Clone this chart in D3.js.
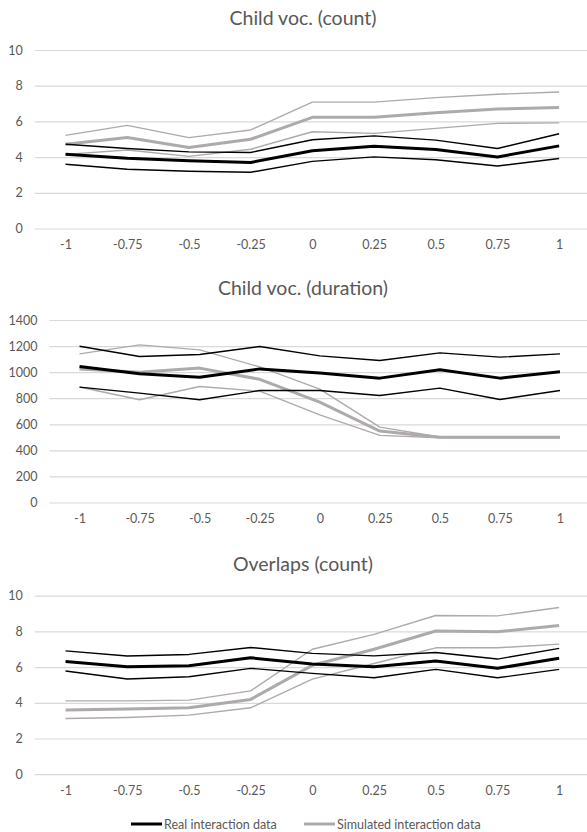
<!DOCTYPE html>
<html>
<head>
<meta charset="utf-8">
<script src="https://cdn.jsdelivr.net/npm/d3@7"></script>
<style>
  body { margin: 0; background: #fff; }
  svg { display: block; font-family: Lato, "Noto Sans", sans-serif; }
</style>
</head>
<body>
<svg id="chart" width="587" height="832"></svg>
<script>
const categories = ["-1", "-0.75", "-0.5", "-0.25", "0", "0.25", "0.5", "0.75", "1"];

// Child voc. (count)
const countRealHigh = [4.72, 4.48, 4.29, 4.26, 4.97, 5.19, 4.95, 4.48, 5.31];
const countRealMean = [4.16, 3.93, 3.79, 3.70, 4.36, 4.61, 4.43, 4.01, 4.63];
const countRealLow  = [3.60, 3.32, 3.21, 3.15, 3.76, 4.01, 3.85, 3.50, 3.92];
const countSimHigh  = [5.22, 5.78, 5.09, 5.52, 7.08, 7.08, 7.33, 7.52, 7.65];
const countSimMean  = [4.72, 5.10, 4.54, 5.00, 6.23, 6.23, 6.48, 6.69, 6.78];
const countSimLow   = [4.15, 4.40, 4.04, 4.44, 5.42, 5.33, 5.61, 5.89, 5.92];

// Child voc. (duration)
const durRealHigh = [1199, 1120, 1135, 1197, 1125, 1089, 1148, 1115, 1140];
const durRealMean = [1043, 987, 961, 1025, 993, 954, 1018, 954, 1003];
const durRealLow  = [885, 839, 788, 859, 859, 821, 877, 790, 859];
const durSimHigh  = [1140, 1209, 1171, 1040, 870, 578, 502, 502, 502];
const durSimMean  = [1025, 1000, 1031, 945, 770, 548, 500, 500, 500];
const durSimLow   = [886, 788, 890, 854, 672, 515, 497, 497, 497];

// Overlaps (count)
const ovRealHigh = [6.91, 6.62, 6.71, 7.10, 6.77, 6.63, 6.82, 6.45, 7.05];
const ovRealMean = [6.32, 6.02, 6.07, 6.52, 6.18, 6.02, 6.34, 5.93, 6.49];
const ovRealLow  = [5.78, 5.33, 5.46, 5.93, 5.65, 5.40, 5.87, 5.40, 5.87];
const ovSimHigh  = [4.11, 4.11, 4.15, 4.67, 7.00, 7.83, 8.89, 8.87, 9.34];
const ovSimMean  = [3.59, 3.65, 3.72, 4.19, 6.10, 7.00, 8.02, 7.98, 8.33];
const ovSimLow   = [3.12, 3.18, 3.31, 3.72, 5.33, 6.20, 7.08, 7.08, 7.29];

const titles = ["Child voc. (count)", "Child voc. (duration)", "Overlaps (count)"];
const legendLabels = ["Real interaction data", "Simulated interaction data"];

const panels = [
    {title: titles[0], max: 10, step: 2, left: 34.7, top: 50, bottom: 228.5, titleY: 17.5,
     real: [countRealHigh, countRealMean, countRealLow], sim: [countSimHigh, countSimMean, countSimLow]},
    {title: titles[1], max: 1400, step: 200, left: 49.5, top: 320, bottom: 502.5, titleY: 287.5,
     real: [durRealHigh, durRealMean, durRealLow], sim: [durSimHigh, durSimMean, durSimLow]},
    {title: titles[2], max: 10, step: 2, left: 34.7, top: 595.7, bottom: 774.2, titleY: 563.5,
     real: [ovRealHigh, ovRealMean, ovRealLow], sim: [ovSimHigh, ovSimMean, ovSimLow]}
];

const chartWidth = 606;
const plotRight = 590;
const textColor = "#595959";
const gridColor = "#d9d9d9";
const realColor = "#000000";
const simColor = "#aeaaaa";

const svg = d3.select("#chart");

function drawPanel(p) {
    const g = svg.append("g");

    const x = d3.scalePoint()
        .domain(categories)
        .range([p.left, plotRight])
        .padding(0.5);
    const y = d3.scaleLinear()
        .domain([0, p.max])
        .range([p.bottom, p.top]);

    // Title
    g.append("text")
        .attr("x", chartWidth / 2)
        .attr("y", p.titleY)
        .attr("text-anchor", "middle")
        .attr("dominant-baseline", "central")
        .attr("fill", textColor)
        .style("font-size", "19.5px")
        .text(p.title);

    // Horizontal gridlines + y labels
    const yAxis = d3.axisLeft(y)
        .tickValues(d3.range(0, p.max + p.step, p.step))
        .tickFormat(d3.format("d"))
        .tickSize(-(plotRight - p.left))
        .tickPadding(12);
    const ya = g.append("g")
        .attr("transform", `translate(${p.left},0)`)
        .call(yAxis);
    ya.select(".domain").remove();
    ya.selectAll(".tick line").attr("stroke", gridColor).attr("stroke-width", 1.2);
    ya.selectAll(".tick text")
        .attr("fill", textColor)
        .style("font-family", "Lato, sans-serif")
        .style("font-size", "12.5px");

    // x labels
    const xAxis = d3.axisBottom(x).tickSize(0).tickPadding(12);
    const xa = g.append("g")
        .attr("transform", `translate(0,${p.bottom})`)
        .call(xAxis);
    xa.select(".domain").remove();
    xa.selectAll(".tick text")
        .attr("fill", textColor)
        .style("font-family", "Lato, sans-serif")
        .style("font-size", "12.5px");

    const line = d3.line()
        .x((d, i) => x(categories[i]))
        .y(d => y(d));

    // simulated first, real on top
    p.sim.forEach((vals, i) => {
        g.append("path")
            .datum(vals)
            .attr("d", line)
            .attr("fill", "none")
            .attr("stroke", simColor)
            .attr("stroke-width", i === 1 ? 3 : 1.4)
            .attr("stroke-linejoin", "round");
    });
    p.real.forEach((vals, i) => {
        g.append("path")
            .datum(vals)
            .attr("d", line)
            .attr("fill", "none")
            .attr("stroke", realColor)
            .attr("stroke-width", i === 1 ? 3 : 1.4)
            .attr("stroke-linejoin", "round");
    });
}

panels.forEach(drawPanel);

// Legend
const legendY = 824;
const legendItems = [
    {label: legendLabels[0], color: realColor, x: 131},
    {label: legendLabels[1], color: simColor, x: 304}
];
const legend = svg.append("g");
legendItems.forEach(item => {
    legend.append("line")
        .attr("x1", item.x)
        .attr("x2", item.x + 31)
        .attr("y1", legendY)
        .attr("y2", legendY)
        .attr("stroke", item.color)
        .attr("stroke-width", 3);
    legend.append("text")
        .attr("x", item.x + 33)
        .attr("y", legendY)
        .attr("dominant-baseline", "central")
        .attr("fill", textColor)
        .style("font-size", "12.5px")
        .text(item.label);
});
</script>
</body>
</html>
